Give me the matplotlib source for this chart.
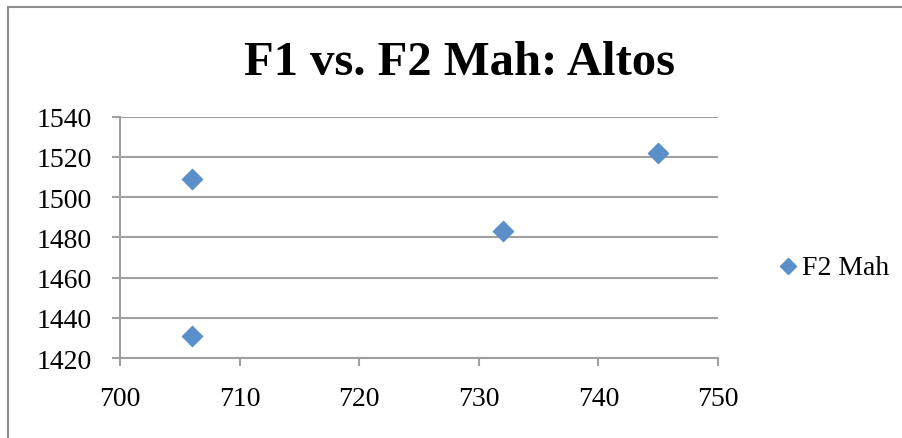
import matplotlib.pyplot as plt
from matplotlib.patches import Rectangle

f1 = [706, 706, 732, 745]
f2 = [1509, 1431, 1483, 1522]
x_ticks = [700, 710, 720, 730, 740, 750]
y_ticks = [1420, 1440, 1460, 1480, 1500, 1520, 1540]

W, H = 903, 439
fig = plt.figure(figsize=(W / 100, H / 100), dpi=100)
plt.rcParams['font.family'] = ['Liberation Serif', 'DejaVu Serif']

# outer chart frame, runs off the right and bottom edges
fig.patches.append(Rectangle((8 / W, -0.1), 1.2, 1 - 8 / H + 0.1, transform=fig.transFigure,
                             fill=False, edgecolor='#8c8c8c', linewidth=1.5))

ax = fig.add_axes([120 / W, 1 - 359 / H, (718 - 120) / W, (359 - 117.5) / H])
ax.scatter(f1, f2, marker='D', s=105, color='#5b8fc9', zorder=3, label='F2 Mah')

ax.set_xlim(700, 750)
ax.set_ylim(1420, 1540)
ax.set_xticks(x_ticks)
ax.set_yticks(y_ticks)
ax.grid(axis='y', color='#a0a0a0', linewidth=1.5)
ax.set_axisbelow(True)
for s in ['top', 'right']:
    ax.spines[s].set_visible(False)
for s in ['left', 'bottom']:
    ax.spines[s].set_color('#a0a0a0')
    ax.spines[s].set_linewidth(1.5)
ax.tick_params(colors='#a0a0a0', width=1.5, length=6, labelcolor='black', labelsize=20)
ax.tick_params(axis='x', pad=14)
ax.tick_params(axis='y', pad=14)

fig.text(460 / W, 1 - 75 / H, 'F1 vs. F2 Mah: Altos', ha='center', va='baseline',
         fontsize=35, fontweight='bold')

ax.legend(loc='center left', bbox_to_anchor=(760 / W, 1 - 268 / H), bbox_transform=fig.transFigure,
          frameon=False, fontsize=20, handletextpad=0.0, handlelength=1.0, markerscale=0.8,
          borderpad=0)

fig.savefig('out.png', dpi=100)
